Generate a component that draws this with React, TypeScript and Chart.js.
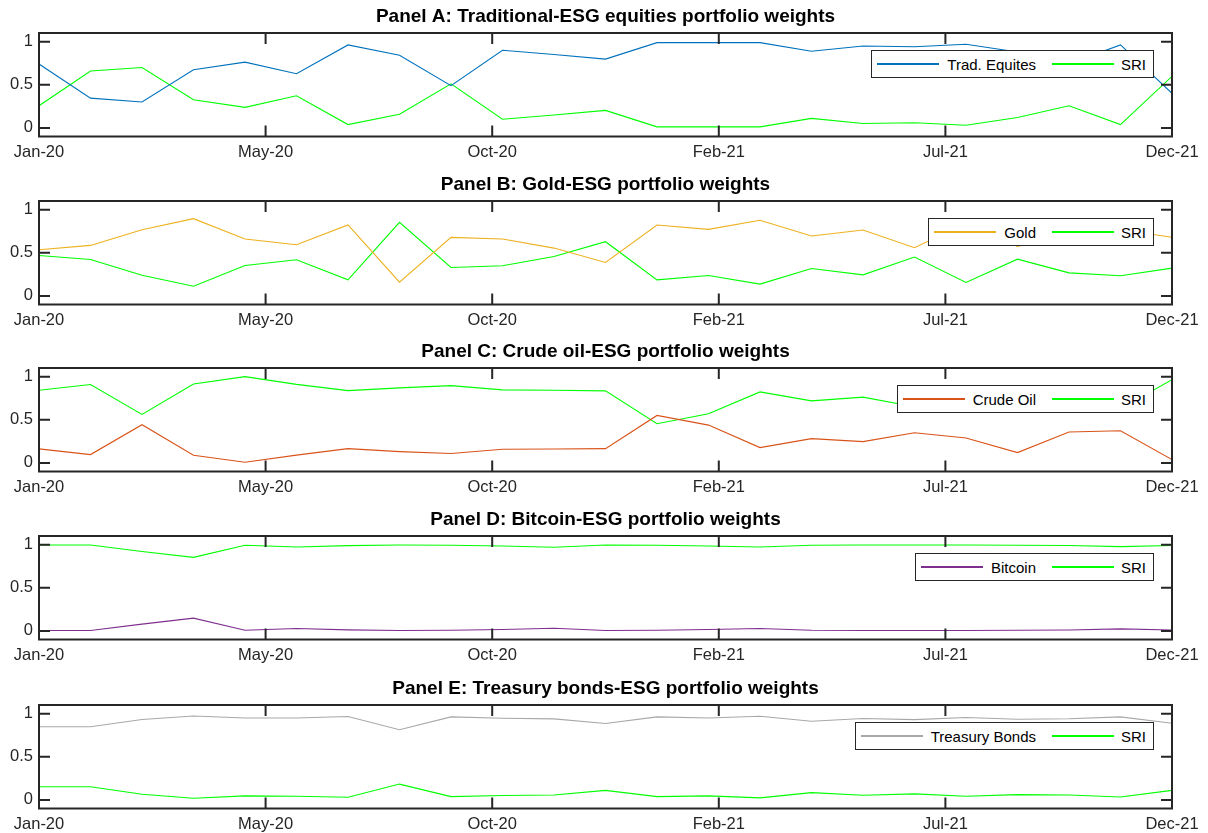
import React, { useEffect, useRef } from 'react';
import { Chart, registerables } from 'chart.js';

Chart.register(...registerables);

// ---------- data ----------
const tickLabels = ['Jan-20', 'May-20', 'Oct-20', 'Feb-21', 'Jul-21', 'Dec-21'];
const yTickValues = [0, 0.5, 1];

const tradEquities = [0.74, 0.345, 0.3, 0.674, 0.762, 0.628, 0.962, 0.843, 0.49, 0.9, 0.85, 0.797, 0.988, 0.988, 0.988, 0.889, 0.95, 0.94, 0.97, 0.88, 0.743, 0.962, 0.4];
const sriA = [0.257, 0.659, 0.7, 0.326, 0.238, 0.372, 0.038, 0.157, 0.51, 0.1, 0.15, 0.203, 0.012, 0.012, 0.012, 0.11, 0.05, 0.06, 0.03, 0.12, 0.257, 0.038, 0.598];

const gold = [0.535, 0.585, 0.767, 0.895, 0.659, 0.593, 0.822, 0.159, 0.678, 0.659, 0.554, 0.388, 0.822, 0.771, 0.876, 0.694, 0.764, 0.558, 0.845, 0.574, 0.733, 0.767, 0.68];
const sriB = [0.469, 0.422, 0.24, 0.112, 0.353, 0.419, 0.186, 0.853, 0.329, 0.349, 0.457, 0.628, 0.186, 0.236, 0.136, 0.318, 0.244, 0.45, 0.155, 0.426, 0.267, 0.233, 0.322];

const crudeOil = [0.162, 0.096, 0.442, 0.088, 0.008, 0.09, 0.165, 0.13, 0.108, 0.158, 0.16, 0.165, 0.55, 0.438, 0.177, 0.281, 0.246, 0.35, 0.288, 0.119, 0.358, 0.373, 0.038];
const sriC = [0.842, 0.908, 0.562, 0.915, 1.0, 0.91, 0.838, 0.87, 0.896, 0.846, 0.842, 0.835, 0.454, 0.569, 0.823, 0.719, 0.762, 0.65, 0.712, 0.881, 0.642, 0.627, 0.965];

const bitcoin = [0.004, 0.004, 0.078, 0.148, 0.008, 0.027, 0.012, 0.004, 0.008, 0.016, 0.031, 0.004, 0.008, 0.016, 0.027, 0.008, 0.004, 0.004, 0.004, 0.008, 0.01, 0.023, 0.01];
const sriD = [0.996, 0.996, 0.92, 0.852, 0.992, 0.973, 0.988, 0.996, 0.992, 0.984, 0.969, 0.996, 0.992, 0.984, 0.973, 0.992, 0.996, 0.996, 0.996, 0.992, 0.99, 0.977, 0.99];

const treasury = [0.847, 0.847, 0.931, 0.973, 0.95, 0.95, 0.966, 0.813, 0.962, 0.947, 0.939, 0.885, 0.962, 0.95, 0.969, 0.912, 0.943, 0.93, 0.955, 0.935, 0.94, 0.962, 0.889];
const sriE = [0.153, 0.153, 0.065, 0.019, 0.046, 0.042, 0.03, 0.183, 0.038, 0.05, 0.057, 0.11, 0.038, 0.046, 0.023, 0.084, 0.053, 0.069, 0.042, 0.061, 0.057, 0.034, 0.11];

const panelTitles = [
  'Panel A: Traditional-ESG equities portfolio weights',
  'Panel B: Gold-ESG portfolio weights',
  'Panel C: Crude oil-ESG portfolio weights',
  'Panel D: Bitcoin-ESG portfolio weights',
  'Panel E: Treasury bonds-ESG portfolio weights',
];
const assetNames = ['Trad. Equites', 'Gold', 'Crude Oil', 'Bitcoin', 'Treasury Bonds'];
const assetSeries = [tradEquities, gold, crudeOil, bitcoin, treasury];
const sriSeries = [sriA, sriB, sriC, sriD, sriE];
const sriLabel = 'SRI';

// ---------- styles ----------
const assetColors = ['#0072BD', '#EDB120', '#D95319', '#7E2F8E', '#A8A8A8'];
const SRI_COLOR = '#00FF00';
const AXIS_COLOR = '#262626';
const FONT = '"Liberation Sans", Arial, Helvetica, sans-serif';
const boxTops = [33, 201, 368, 536, 705];
const CANVAS_W = 1208;
const CANVAS_H = 168;
const AREA_TOP = 33;
const AREA_LEFT = 39;
const AREA_RIGHT = 1172;
const AREA_H = 103.5;
const TICK_LEN = 11;
const TITLE_SIZE = 19;

const boxPlugin = {
  id: 'matlabBox',
  afterDraw(chart: any) {
    const { ctx, chartArea } = chart;
    const { left, right, top, bottom } = chartArea;
    const xs = chart.scales.x;
    const ys = chart.scales.y;
    ctx.save();
    ctx.strokeStyle = AXIS_COLOR;
    ctx.lineWidth = 2;
    ctx.beginPath();
    xs.ticks.forEach((t: any) => {
      const px = xs.getPixelForValue(t.value);
      ctx.moveTo(px, bottom);
      ctx.lineTo(px, bottom - TICK_LEN);
      ctx.moveTo(px, top);
      ctx.lineTo(px, top + TICK_LEN);
    });
    ys.ticks.forEach((t: any) => {
      const py = ys.getPixelForValue(t.value);
      ctx.moveTo(left, py);
      ctx.lineTo(left + TICK_LEN, py);
      ctx.moveTo(right, py);
      ctx.lineTo(right - TICK_LEN, py);
    });
    ctx.stroke();
    ctx.strokeRect(left, top, right - left, bottom - top);
    ctx.restore();
  },
};

function Panel({ idx }: { idx: number }) {
  const ref = useRef<HTMLCanvasElement>(null);
  const boxTop = boxTops[idx];

  useEffect(() => {
    const values = assetSeries[idx];
    const sri = sriSeries[idx];
    const xMax = values.length - 1;
    const tickPos = tickLabels.map((_, i) => (i * xMax) / (tickLabels.length - 1));
    const titleLine = TITLE_SIZE * 1.2;
    const chart = new Chart(ref.current as HTMLCanvasElement, {
      type: 'line',
      data: {
        datasets: [
          {
            label: assetNames[idx],
            data: values.map((v, i) => ({ x: i, y: v })),
            borderColor: assetColors[idx],
            backgroundColor: assetColors[idx],
            borderWidth: 1.1,
            pointRadius: 0,
            tension: 0,
            fill: false,
          },
          {
            label: sriLabel,
            data: sri.map((v, i) => ({ x: i, y: v })),
            borderColor: SRI_COLOR,
            backgroundColor: SRI_COLOR,
            borderWidth: 1.1,
            pointRadius: 0,
            tension: 0,
            fill: false,
          },
        ],
      },
      options: {
        responsive: false,
        animation: false,
        events: [],
        layout: { padding: { left: 0, right: CANVAS_W - AREA_RIGHT, top: 0, bottom: 0 } },
        plugins: {
          legend: { display: false },
          tooltip: { enabled: false },
          title: {
            display: true,
            text: panelTitles[idx],
            fullSize: false,
            color: '#000000',
            font: { family: FONT, size: TITLE_SIZE, weight: 'bold', lineHeight: 1.2 },
            padding: { top: 5.4, bottom: AREA_TOP - 5.4 - titleLine },
          },
        },
        scales: {
          x: {
            type: 'linear',
            min: 0,
            max: xMax,
            grid: { display: false, drawTicks: false },
            border: { display: false },
            afterBuildTicks: (s: any) => {
              s.ticks = tickPos.map((v) => ({ value: v }));
            },
            afterFit: (s: any) => {
              s.height = CANVAS_H - AREA_TOP - AREA_H;
              s.paddingLeft = 0;
              s.paddingRight = 0;
            },
            ticks: {
              autoSkip: false,
              maxRotation: 0,
              minRotation: 0,
              padding: 6,
              color: AXIS_COLOR,
              font: { family: FONT, size: 16.5 },
              callback: (_v: any, i: number) => tickLabels[i],
            },
          },
          y: {
            type: 'linear',
            min: -0.1,
            max: 1.1,
            grid: { display: false, drawTicks: false },
            border: { display: false },
            afterBuildTicks: (s: any) => {
              s.ticks = yTickValues.map((v) => ({ value: v }));
            },
            afterFit: (s: any) => {
              s.width = AREA_LEFT;
              s.paddingTop = 0;
              s.paddingBottom = 0;
            },
            ticks: {
              padding: 6,
              color: AXIS_COLOR,
              font: { family: FONT, size: 16.5 },
              callback: (v: any) => String(v),
            },
          },
        },
      } as any,
      plugins: [boxPlugin],
    });
    return () => chart.destroy();
  }, [idx]);

  const lineSample = (color: string) => (
    <span
      style={{
        display: 'block',
        width: 62,
        height: 2,
        background: color,
        flex: '0 0 auto',
      }}
    />
  );

  return (
    <>
      <canvas
        ref={ref}
        width={CANVAS_W}
        height={CANVAS_H}
        style={{ position: 'absolute', left: 0, top: boxTop - AREA_TOP, width: CANVAS_W, height: CANVAS_H }}
      />
      <div
        style={{
          position: 'absolute',
          right: CANVAS_W - 1154,
          top: boxTop + 17,
          height: 28,
          boxSizing: 'border-box',
          display: 'flex',
          alignItems: 'center',
          background: '#ffffff',
          border: `1px solid ${AXIS_COLOR}`,
          paddingLeft: 5,
          paddingRight: 7,
          fontFamily: FONT,
          fontSize: 15,
          color: '#000000',
          whiteSpace: 'nowrap',
        }}
      >
        {lineSample(assetColors[idx])}
        <span style={{ marginLeft: 8, marginRight: 16 }}>{assetNames[idx]}</span>
        {lineSample(SRI_COLOR)}
        <span style={{ marginLeft: 7 }}>{sriLabel}</span>
      </div>
    </>
  );
}

export default function App() {
  return (
    <div
      style={{
        position: 'absolute',
        left: 0,
        top: 0,
        width: CANVAS_W,
        height: 833,
        background: '#ffffff',
        overflow: 'hidden',
      }}
    >
      {panelTitles.map((_, i) => (
        <Panel key={i} idx={i} />
      ))}
    </div>
  );
}
